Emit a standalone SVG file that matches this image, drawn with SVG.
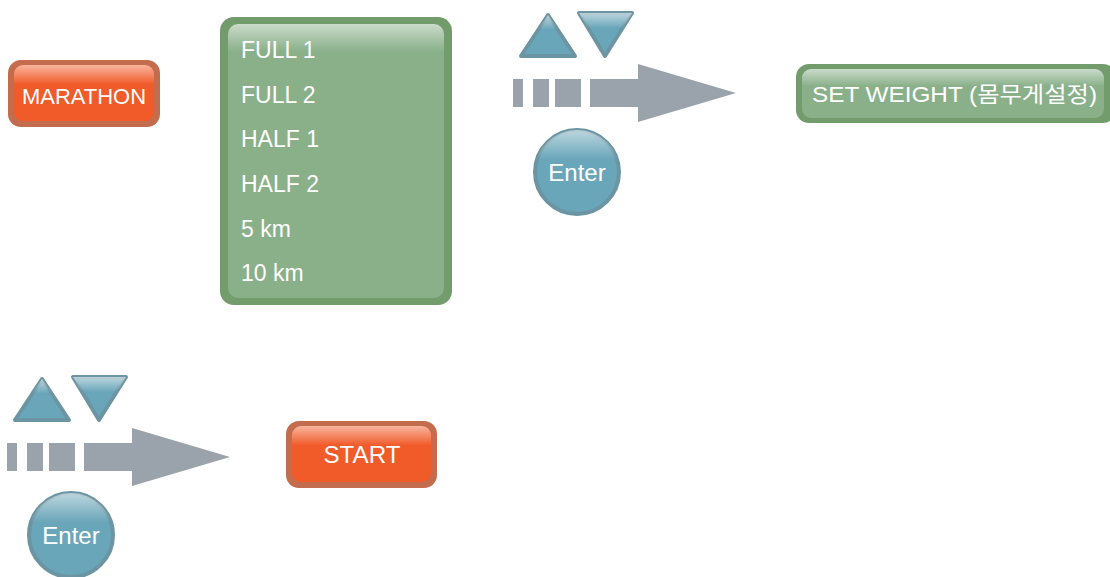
<svg xmlns="http://www.w3.org/2000/svg" width="1110" height="577" viewBox="0 0 1110 577">
<defs>
<linearGradient id="gloss" x1="0" y1="0" x2="0" y2="1">
<stop offset="0" stop-color="#ffffff" stop-opacity="0.55"/>
<stop offset="0.35" stop-color="#ffffff" stop-opacity="0"/>
<stop offset="1" stop-color="#ffffff" stop-opacity="0"/>
</linearGradient>
<linearGradient id="glossList" x1="0" y1="0" x2="0" y2="1">
<stop offset="0" stop-color="#ffffff" stop-opacity="0.55"/>
<stop offset="0.1" stop-color="#ffffff" stop-opacity="0"/>
<stop offset="1" stop-color="#ffffff" stop-opacity="0"/>
</linearGradient>
<style>
.oo{fill:#c46c4e}
.oi{fill:#f15a29}
.go{fill:#739c6c}
.gi{fill:#8ab08a}
.bl{fill:#6aa6b9;stroke:#6b95a3;stroke-width:4;stroke-linejoin:round}
.ar{fill:#9aa3ab}
.t{font-family:"Liberation Sans","Noto Sans CJK KR",sans-serif;fill:#ffffff}
</style>
</defs>

<g id="marathon">
<rect class="oo" x="8" y="60" width="152" height="67" rx="13"/>
<rect class="oi" x="14" y="65" width="140" height="56" rx="9"/>
<rect x="14" y="65" width="140" height="56" rx="9" fill="url(#gloss)"/>
<text class="t" x="84" y="104" font-size="22" text-anchor="middle" textLength="124" lengthAdjust="spacingAndGlyphs">MARATHON</text>
</g>

<g id="list">
<rect class="go" x="220" y="17" width="232" height="288" rx="14"/>
<rect class="gi" x="228" y="24" width="216" height="274" rx="10"/>
<rect x="228" y="24" width="216" height="274" rx="10" fill="url(#glossList)"/>
<text class="t" font-size="23" x="241" y="58">FULL 1</text>
<text class="t" font-size="23" x="241" y="103">FULL 2</text>
<text class="t" font-size="23" x="241" y="147">HALF 1</text>
<text class="t" font-size="23" x="241" y="192">HALF 2</text>
<text class="t" font-size="23" x="241" y="237">5 km</text>
<text class="t" font-size="23" x="241" y="281">10 km</text>
</g>

<g id="setweight">
<rect class="go" x="796" y="64" width="320" height="59" rx="13"/>
<rect class="gi" x="802" y="69" width="302" height="49" rx="9"/>
<rect x="802" y="69" width="302" height="49" rx="9" fill="url(#gloss)"/>
<text class="t" x="812" y="102" font-size="22" textLength="285" lengthAdjust="spacingAndGlyphs">SET WEIGHT (몸무게설정)</text>
</g>

<g id="start">
<rect class="oo" x="286" y="421" width="151" height="67" rx="13"/>
<rect class="oi" x="292" y="426" width="139" height="56" rx="9"/>
<rect x="292" y="426" width="139" height="56" rx="9" fill="url(#gloss)"/>
<text class="t" x="362" y="463" font-size="23" text-anchor="middle" textLength="77" lengthAdjust="spacingAndGlyphs">START</text>
</g>

<g id="controls1">
<polygon class="bl" points="548,15 575,56 521,56"/>
<polygon points="548,15 575,56 521,56" fill="url(#gloss)"/>
<polygon class="bl" points="579,13 632,13 605,56"/>
<polygon points="579,13 632,13 605,56" fill="url(#gloss)"/>
<circle class="bl" cx="577" cy="172" r="42"/>
<circle cx="577" cy="172" r="42" fill="url(#gloss)"/>
<text class="t" x="577" y="181" font-size="24" text-anchor="middle">Enter</text>
</g>

<g id="controls2">
<polygon class="bl" points="42,379 69,420 15,420"/>
<polygon points="42,379 69,420 15,420" fill="url(#gloss)"/>
<polygon class="bl" points="73,377 126,377 99,420"/>
<polygon points="73,377 126,377 99,420" fill="url(#gloss)"/>
<circle class="bl" cx="71" cy="535" r="42"/>
<circle cx="71" cy="535" r="42" fill="url(#gloss)"/>
<text class="t" x="71" y="544" font-size="24" text-anchor="middle">Enter</text>
</g>

<g id="connectors">
<g id="arrow1" class="ar">
<rect x="513" y="79" width="10" height="28"/>
<rect x="533" y="79" width="16" height="28"/>
<rect x="555" y="79" width="26" height="28"/>
<polygon points="590,79 638,79 638,64 736,93 638,122 638,107 590,107"/>
</g>
<g id="arrow2" class="ar">
<rect x="7" y="443" width="10" height="28"/>
<rect x="27" y="443" width="16" height="28"/>
<rect x="49" y="443" width="26" height="28"/>
<polygon points="84,443 132,443 132,428 230,457 132,486 132,471 84,471"/>
</g>
</g>
</svg>
